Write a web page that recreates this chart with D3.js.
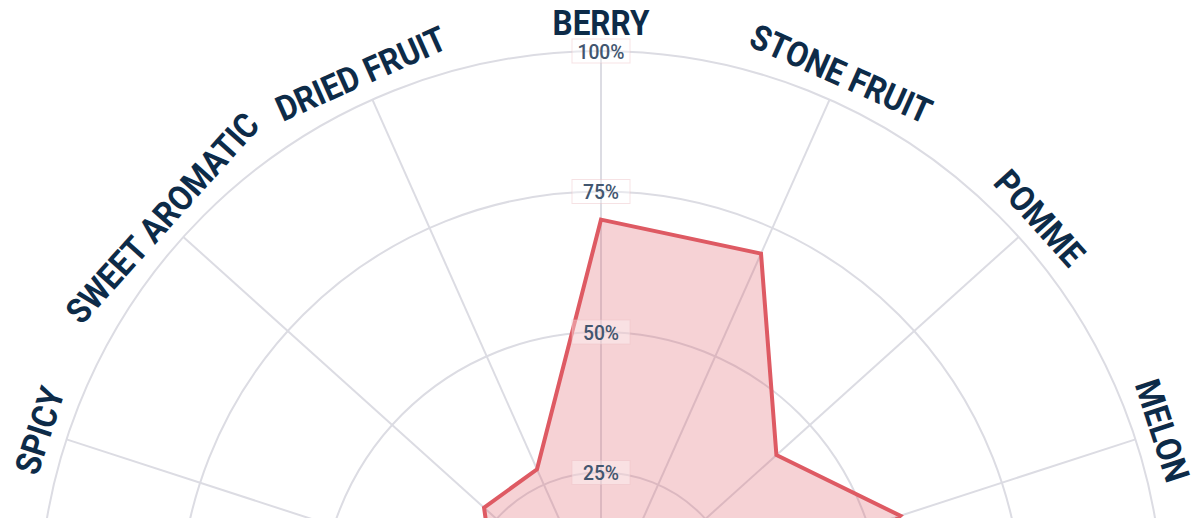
<!DOCTYPE html>
<html>
<head>
<meta charset="utf-8">
<script src="https://cdn.jsdelivr.net/npm/d3@7/dist/d3.min.js"></script>
<style>
  html, body { margin: 0; padding: 0; background: #fff; overflow: hidden; }
  svg { display: block; }
</style>
</head>
<body>
<div id="chart"></div>
<script>
// Aroma categories, clockwise from the top (the lower half is outside the frame)
const categories = ["BERRY", "STONE FRUIT", "POMME", "MELON", "CITRUS", "TROPICAL", "FLORAL",
    "HERBAL", "MINERAL", "EARTHY", "OAKY", "SAVORY", "SPICY", "SWEET AROMATIC", "DRIED FRUIT"];
const values = [70, 70, 42, 56, 30, 30, 30, 30, 30, 30, 30, 25, 20, 28, 28];
const ringTicks = [25, 50, 75, 100];
const tickLabels = ["25%", "50%", "75%", "100%"];

const width = 1200, height = 518;
const cx = 601, cy = 613, radius = 562;
const labelFont = 'Roboto, "Noto Sans", sans-serif';

const svg = d3.select('#chart')
    .append('svg')
    .attr('width', width)
    .attr('height', height);
const g = svg.append('g')
    .attr('transform', `translate(${cx},${cy})`);

const r = d3.scaleLinear().domain([0, 100]).range([0, radius]);
const angle = d3.scaleLinear().domain([0, categories.length]).range([0, 2 * Math.PI]);

// Rings
g.selectAll('circle.ring')
    .data(ringTicks)
    .enter()
    .append('circle')
    .attr('class', 'ring')
    .attr('r', d => r(d))
    .attr('fill', 'none')
    .attr('stroke', '#dcdce3')
    .attr('stroke-width', 2);

// Spokes
g.selectAll('line.spoke')
    .data(categories)
    .enter()
    .append('line')
    .attr('class', 'spoke')
    .attr('x1', 0)
    .attr('y1', 0)
    .attr('x2', (d, i) => r(100) * Math.sin(angle(i)))
    .attr('y2', (d, i) => -r(100) * Math.cos(angle(i)))
    .attr('stroke', '#dcdce3')
    .attr('stroke-width', 2);

// Data polygon
const radar = d3.lineRadial()
    .angle((d, i) => angle(i))
    .radius(d => r(d))
    .curve(d3.curveLinearClosed);
g.append('path')
    .datum(values)
    .attr('d', radar)
    .attr('fill', 'rgba(222, 90, 99, 0.27)')
    .attr('stroke', '#de5a63')
    .attr('stroke-width', 4)
    .attr('stroke-linejoin', 'miter');

// Ring labels with backdrop
const tick = g.selectAll('g.tick')
    .data(ringTicks)
    .enter()
    .append('g')
    .attr('class', 'tick')
    .attr('transform', d => `translate(0,${-r(d)})`);
tick.append('rect')
    .attr('x', -29)
    .attr('y', -12)
    .attr('width', 58)
    .attr('height', 24)
    .attr('fill', 'rgba(255,255,255,0.35)')
    .attr('stroke', 'rgba(235,190,195,0.45)');
tick.append('text')
    .attr('text-anchor', 'middle')
    .attr('dy', '0.36em')
    .attr('transform', 'scale(0.92,1)')
    .attr('font-family', labelFont)
    .attr('font-weight', 500)
    .attr('font-size', '21px')
    .attr('fill', '#42566f')
    .text((d, i) => tickLabels[i]);

// Category labels, rotated along the circle, set a little condensed.
// Only the ones that land inside the frame are drawn.
const labelR = radius + 16;
const shown = categories
    .map((name, i) => ({name, i}))
    .filter(d => cy - labelR * Math.cos(angle(d.i)) < height - 20);
g.selectAll('text.cat')
    .data(shown)
    .enter()
    .append('text')
    .attr('class', 'cat')
    .attr('transform', d => `rotate(${angle(d.i) * 180 / Math.PI}) translate(0,${-labelR}) scale(0.9,1)`)
    .attr('text-anchor', 'middle')
    .attr('font-family', labelFont)
    .attr('font-weight', 'bold')
    .attr('font-size', '35px')
    .attr('fill', '#0d2b48')
    .text(d => d.name);
</script>
</body>
</html>
